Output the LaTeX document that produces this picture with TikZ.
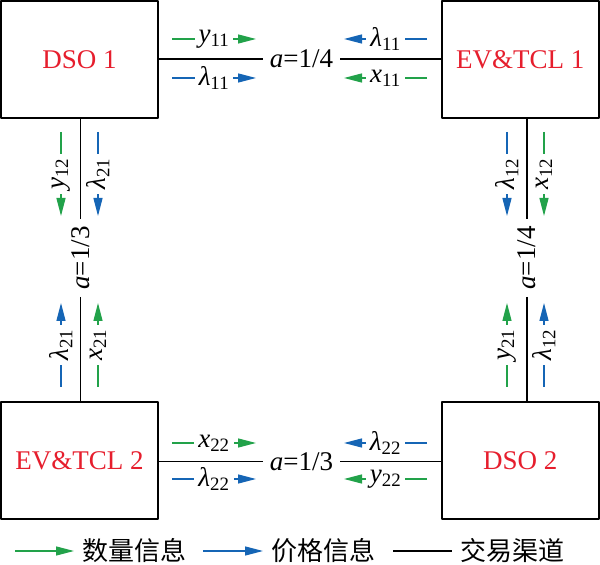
\documentclass[tikz,border=0pt]{standalone}
\usepackage{fontspec}
\setmainfont{Liberation Serif}
\newfontfamily\cjk{Noto Sans CJK SC}
\usetikzlibrary{arrows.meta}
\definecolor{qgreen}{RGB}{34,162,74}
\definecolor{pblue}{RGB}{21,101,181}
\definecolor{dsored}{RGB}{230,30,45}
\newcommand\qv[2]{\textit{#1}\textsubscript{#2}}
\tikzset{
	box/.style={draw,line width=1.5pt,minimum width=157pt,minimum height=117pt,text=dsored},
	chan/.style={line width=1.2pt},
	link/.style={inner xsep=7pt,inner ysep=2pt},
	qarrow/.style={->,qgreen,line width=1.3pt},
	parrow/.style={->,pblue,line width=1.3pt},
	lab/.style={fill=white,text=black,inner xsep=4pt,inner ysep=1pt},
	leg/.style={anchor=west,inner xsep=8pt,font=\cjk\fontsize{26}{30}\selectfont}
}
\begin{document}
\begin{tikzpicture}[x=1pt,y=1pt,>={Triangle[length=18pt,width=9pt]},line join=round,font=\fontsize{27}{32}\selectfont]
	\useasboundingbox (0,0) rectangle (600,565);
	% participants
	\node[box] (dso1) at (79.5,505.5) {DSO 1};
	\node[box] (ev1) at (520.3,505.5) {EV\&TCL 1};
	\node[box] (ev2) at (79.5,104.5) {EV\&TCL 2};
	\node[box] (dso2) at (520.3,104.5) {DSO 2};
	% trading channels
	\node[link] (atop) at (301.5,506) {\textit{a}=1/4};
	\node[link] (abot) at (301.5,103.3) {\textit{a}=1/3};
	\node[link,rotate=90] (aleft) at (80.5,307) {\textit{a}=1/3};
	\node[link,rotate=90] (aright) at (527,307) {\textit{a}=1/4};
	\draw[chan] (dso1.east |- atop) -- (atop) -- (ev1.west |- atop);
	\draw[chan] (ev2.east |- abot) -- (abot) -- (dso2.west |- abot);
	\draw[chan] (dso1.south -| aleft) -- (aleft) -- (ev2.north -| aleft);
	\draw[chan] (ev1.south -| aright) -- (aright) -- (dso2.north -| aright);
	% top
	\draw[qarrow] (172,526) -- (256,526) node[midway,lab] {\qv{y}{11}};
	\draw[parrow] (172,487) -- (256,487) node[midway,lab] {\qv{λ}{11}};
	\draw[parrow] (427,526) -- (344,526) node[midway,lab] {\qv{λ}{11}};
	\draw[qarrow] (427,487) -- (344,487) node[midway,lab] {\qv{x}{11}};
	% bottom
	\draw[qarrow] (172,122) -- (256,122) node[midway,lab] {\qv{x}{22}};
	\draw[parrow] (172,86) -- (256,86) node[midway,lab] {\qv{λ}{22}};
	\draw[parrow] (427,122) -- (344,122) node[midway,lab] {\qv{λ}{22}};
	\draw[qarrow] (427,86) -- (344,86) node[midway,lab] {\qv{y}{22}};
	% left
	\draw[qarrow] (61,433) -- (61,349) node[midway,lab,rotate=90] {\qv{y}{12}};
	\draw[parrow] (98,433) -- (98,349) node[midway,lab,rotate=90] {\qv{λ}{21}};
	\draw[parrow] (61,178) -- (61,262) node[midway,lab,rotate=90] {\qv{λ}{21}};
	\draw[qarrow] (98,178) -- (98,262) node[midway,lab,rotate=90] {\qv{x}{21}};
	% right
	\draw[parrow] (507,433) -- (507,349) node[midway,lab,rotate=90] {\qv{λ}{12}};
	\draw[qarrow] (544,433) -- (544,349) node[midway,lab,rotate=90] {\qv{x}{12}};
	\draw[qarrow] (507,178) -- (507,262) node[midway,lab,rotate=90] {\qv{y}{21}};
	\draw[parrow] (544,178) -- (544,262) node[midway,lab,rotate=90] {\qv{λ}{12}};
	% legend
	\node[leg] (legq) at (74,14) {数量信息};
	\node[leg] (legp) at (263,14) {价格信息};
	\node[leg] (legc) at (452,14) {交易渠道};
	\draw[qarrow] (15,14) -- (legq.west);
	\draw[parrow] (203,14) -- (legp.west);
	\draw[chan] (393,14) -- (legc.west);
\end{tikzpicture}
\end{document}
